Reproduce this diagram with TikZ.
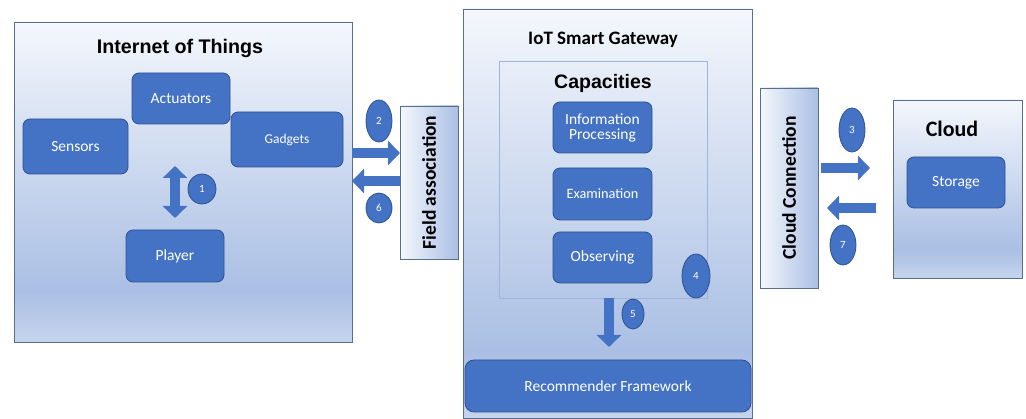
\documentclass[tikz,border=0pt]{standalone}
\usepackage{fontspec}
\setmainfont{Carlito}
\newfontfamily\arialfont{Liberation Sans}
\usetikzlibrary{arrows.meta,positioning,calc}
\definecolor{bluefill}{HTML}{4472C4}
\definecolor{blueline}{HTML}{2F528F}
\definecolor{frameline}{HTML}{5A6E8C}
\definecolor{btop}{HTML}{F4F7FC}
\definecolor{bdark}{HTML}{AABFE4}
\definecolor{bbot}{HTML}{C6D4ED}
\definecolor{capline}{HTML}{9FB4DA}
\pgfdeclareverticalshading{boxshade}{100bp}{color(0bp)=(bbot); color(25bp)=(bbot); color(33bp)=(bdark); color(75bp)=(btop); color(100bp)=(btop)}
\tikzset{
  bigbox/.style={draw=frameline, line width=0.8pt, shading=boxshade, rectangle, inner sep=0pt, outer sep=0pt},
  sidebox/.style={draw=frameline, line width=0.8pt, left color=btop, right color=bdark, rectangle, inner sep=0pt, outer sep=0pt},
  bluebox/.style={draw=blueline, line width=0.8pt, fill=bluefill, rounded corners=7pt, text=white, font=\fontsize{15.5}{17}\selectfont, align=center, inner sep=0pt, outer sep=0pt},
  blockarrow/.style={draw=bluefill, line width=10pt, -{Triangle[width=24pt,length=12pt]}},
  dblarrow/.style={draw=bluefill, line width=10pt, {Triangle[width=24pt,length=12pt]}-{Triangle[width=24pt,length=12pt]}},
  numell/.style={draw=blueline, line width=0.8pt, fill=bluefill},
  numtxt/.style={text=white, font=\fontsize{11}{12}\selectfont, inner sep=0pt},
}
\begin{document}
\begin{tikzpicture}[x=1pt,y=-1pt]
\useasboundingbox (0,0) rectangle (1026,419);
% big boxes
\node[bigbox, minimum width=338pt, minimum height=320pt] (iot) at (183,182) {};
\node[bigbox, minimum width=289pt, minimum height=409pt] (gw) at (607.5,213.5) {};
\node[bigbox, minimum width=129pt, minimum height=178pt] (cloud) at (957.5,189) {};
\node[sidebox, minimum width=58pt, minimum height=153pt] (field) at (429,182.5) {};
\node[sidebox, minimum width=58pt, minimum height=200pt] (cconn) at (789,188) {};
\node[draw=capline, line width=0.6pt, minimum width=208pt, minimum height=237pt, inner sep=0pt] (cap) at (603,179.5) {};

% titles
\node[font=\arialfont\bfseries\fontsize{19.7}{21}\selectfont] (iott) at (180,48) {Internet of Things};
\node[font=\bfseries\fontsize{19}{21}\selectfont] (gwt) at (603,40) {IoT Smart Gateway};
\node[font=\arialfont\bfseries\fontsize{19.5}{21}\selectfont] (capt) at (603,83) {Capacities};
\node[font=\bfseries\fontsize{22}{23}\selectfont] (cloudt) at (952,129) {Cloud};
\node[font=\bfseries\fontsize{19.5}{21}\selectfont, rotate=90] (fieldt) at (field.center) {Field association};
\node[font=\bfseries\fontsize{19.5}{21}\selectfont, rotate=90] (cconnt) at (cconn.center) {Cloud Connection};

% blue boxes
\node[bluebox, minimum width=98pt, minimum height=51pt] (act) at (181,98.5) {Actuators};
\node[bluebox, minimum width=105pt, minimum height=55pt] (sens) at (75.5,146.5) {Sensors};
\node[bluebox, minimum width=112pt, minimum height=55pt, font=\fontsize{13.5}{15}\selectfont] (gad) at (287,139.5) {Gadgets};
\node[bluebox, minimum width=98pt, minimum height=52pt] (play) at (175,256) {Player};
\node[bluebox, minimum width=99pt, minimum height=51pt] (info) at (602.5,127.5) {Information\\[-2pt]Processing};
\node[bluebox, minimum width=99pt, minimum height=52pt, font=\fontsize{14.3}{16}\selectfont] (exam) at (602.5,194) {Examination};
\node[bluebox, minimum width=99pt, minimum height=51pt] (obs) at (602.5,257.5) {Observing};
\node[bluebox, minimum width=286pt, minimum height=52pt, rounded corners=9pt] (rec) at (608,386) {Recommender Framework};
\node[bluebox, minimum width=98pt, minimum height=51pt] (stor) at (956,182.5) {Storage};

% arrows
\draw[dblarrow, shorten >=12pt] ($(act.south)+(-6,42)$) coordinate (d1) -- (play.north);
\draw[blockarrow] (iot.east |- 0,153) -- (field.west |- 0,153);
\draw[blockarrow] (field.west |- 0,181) -- (iot.east |- 0,181);
\draw[blockarrow, shorten >=13pt] (cap.south -| 609,0) -- (rec.north -| 609,0);
\coordinate (a3s) at (821,168);
\coordinate (a3e) at (870,168);
\coordinate (a7s) at (876,208);
\coordinate (a7e) at (827,208);
\draw[blockarrow] (a3s) -- (a3e);
\draw[blockarrow] (a7s) -- (a7e);

% number ellipses
\draw[numell] (202,189) ellipse [x radius=14, y radius=15];
\node[numtxt] (n1) at (202,189) {1};
\draw[numell] (379,121) ellipse [x radius=13, y radius=21];
\node[numtxt] (n2) at (379,121) {2};
\draw[numell] (379,208) ellipse [x radius=13, y radius=15];
\node[numtxt] (n6) at (379,208) {6};
\draw[numell] (696,276) ellipse [x radius=14, y radius=22];
\node[numtxt] (n4) at (696,276) {4};
\draw[numell] (633,314) ellipse [x radius=11, y radius=15];
\node[numtxt] (n5) at (633,314) {5};
\draw[numell] (852,130) ellipse [x radius=13, y radius=22];
\node[numtxt] (n3) at (852,130) {3};
\draw[numell] (843,245) ellipse [x radius=13, y radius=20];
\node[numtxt] (n7) at (843,245) {7};
\end{tikzpicture}
\end{document}
